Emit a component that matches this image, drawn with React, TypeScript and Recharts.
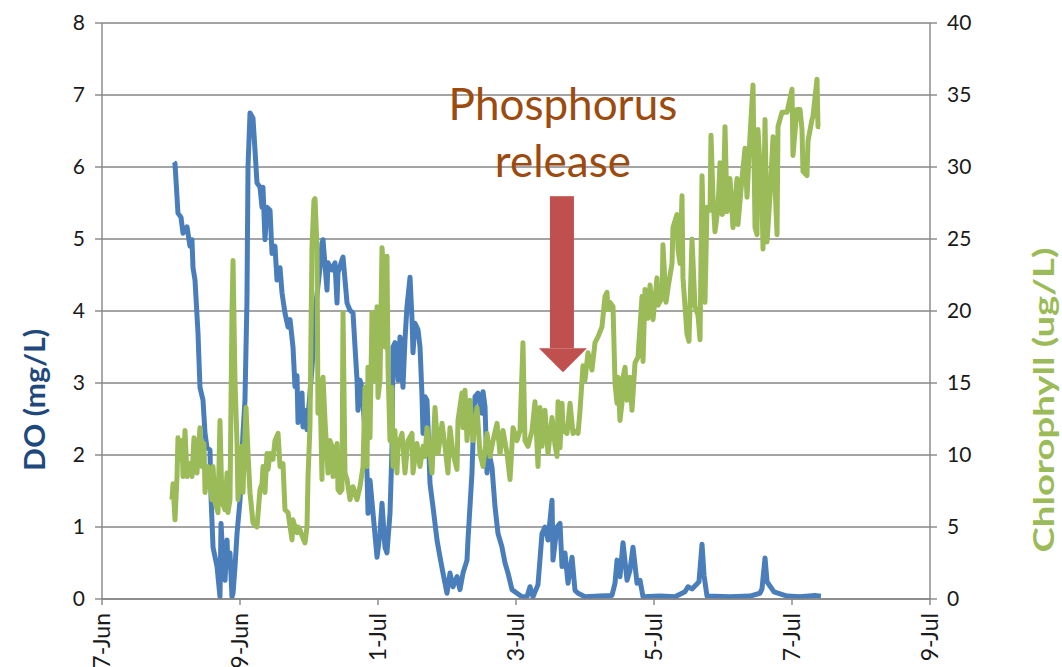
import React from 'react';
import { LineChart, Line, XAxis, YAxis, CartesianGrid, ReferenceDot } from 'recharts';

// days counted from 27-Jun 00:00
const tickDays = [0, 2, 4, 6, 8, 10, 12];
const tickLabels = ['27-Jun', '29-Jun', '1-Jul', '3-Jul', '5-Jul', '7-Jul', '9-Jul'];
const doTicks = [0, 1, 2, 3, 4, 5, 6, 7, 8];
const chlTicks = [0, 5, 10, 15, 20, 25, 30, 35, 40];

// [day, DO mg/L]
const doReadings: [number, number][] = [
  [1.043, 6.07], [1.058, 6.05], [1.101, 5.36], [1.145, 5.3], [1.174, 5.08], [1.232, 5.17], [1.275, 4.9],
  [1.304, 4.99], [1.319, 4.6], [1.348, 4.43], [1.391, 3.7], [1.42, 2.94], [1.464, 2.76], [1.493, 2.3],
  [1.522, 2.1], [1.565, 2.07], [1.58, 1.42], [1.609, 0.72], [1.667, 0.45], [1.71, 0.03], [1.725, 1.05],
  [1.754, 0.54], [1.783, 0.26], [1.812, 0.82], [1.826, 0.45], [1.855, 0.64], [1.884, 0.03], [1.899, 0.08],
  [1.928, 0.45], [1.957, 0.91], [2.0, 1.37], [2.043, 2.3], [2.072, 2.76], [2.101, 4.15], [2.116, 6.0],
  [2.145, 6.75], [2.188, 6.68], [2.217, 6.24], [2.246, 5.78], [2.29, 5.72], [2.319, 5.44], [2.333, 5.72],
  [2.362, 4.99], [2.391, 5.44], [2.435, 5.4], [2.464, 4.8], [2.507, 4.9], [2.536, 4.43], [2.58, 4.6],
  [2.609, 4.25], [2.652, 3.97], [2.696, 3.78], [2.725, 3.88], [2.768, 3.5], [2.797, 2.95], [2.826, 3.1],
  [2.841, 2.45], [2.87, 2.6], [2.899, 2.86], [2.913, 2.39], [2.942, 2.62], [2.971, 2.35], [3.043, 3.2],
  [3.101, 4.1], [3.159, 4.6], [3.188, 4.94], [3.203, 4.99], [3.261, 4.29], [3.275, 4.67], [3.333, 4.57],
  [3.377, 4.67], [3.406, 4.11], [3.42, 4.53], [3.478, 4.71], [3.493, 4.75], [3.522, 4.43], [3.551, 4.11],
  [3.594, 4.01], [3.638, 3.97], [3.667, 3.5], [3.696, 3.04], [3.71, 2.62], [3.739, 3.04], [3.768, 2.94],
  [3.812, 2.3], [3.841, 1.75], [3.855, 1.19], [3.884, 1.65], [3.928, 1.19], [3.986, 0.58], [4.029, 0.91],
  [4.058, 1.33], [4.101, 0.72], [4.13, 0.64], [4.174, 1.19], [4.203, 2.1], [4.217, 3.5], [4.246, 3.56],
  [4.29, 3.04], [4.319, 3.64], [4.362, 2.94], [4.391, 3.6], [4.42, 4.06], [4.464, 4.47], [4.493, 3.88],
  [4.507, 3.42], [4.536, 3.83], [4.58, 3.74], [4.609, 3.5], [4.638, 2.81], [4.652, 2.3], [4.681, 2.81],
  [4.71, 2.76], [4.725, 2.39], [4.754, 1.6], [4.797, 1.28], [4.855, 0.82], [4.899, 0.58], [4.942, 0.36],
  [5.0, 0.08], [5.043, 0.36], [5.087, 0.17], [5.145, 0.31], [5.188, 0.13], [5.232, 0.36], [5.29, 0.54],
  [5.304, 0.82], [5.362, 1.75], [5.377, 2.2], [5.406, 2.81], [5.449, 2.86], [5.507, 2.58], [5.522, 2.88],
  [5.551, 2.67], [5.58, 1.75], [5.594, 2.1], [5.652, 1.83], [5.696, 1.28], [5.739, 0.91], [5.797, 0.72],
  [5.841, 0.5], [5.884, 0.36], [5.942, 0.13], [6.014, 0.08], [6.087, 0.03], [6.159, 0.03], [6.203, 0.17],
  [6.246, 0.03], [6.319, 0.2], [6.377, 0.91], [6.42, 1.0], [6.464, 0.82], [6.522, 1.37], [6.536, 0.54],
  [6.594, 1.0], [6.638, 1.05], [6.667, 0.45], [6.71, 0.64], [6.754, 0.22], [6.812, 0.58], [6.855, 0.12],
  [6.899, 0.08], [7.0, 0.03], [7.217, 0.04], [7.391, 0.05], [7.435, 0.22], [7.464, 0.54], [7.507, 0.31],
  [7.551, 0.78], [7.609, 0.26], [7.652, 0.4], [7.696, 0.72], [7.754, 0.22], [7.797, 0.26], [7.841, 0.03],
  [8.087, 0.04], [8.304, 0.03], [8.449, 0.1], [8.493, 0.17], [8.551, 0.14], [8.652, 0.24], [8.696, 0.76],
  [8.725, 0.33], [8.768, 0.04], [9.101, 0.03], [9.391, 0.04], [9.536, 0.08], [9.565, 0.14], [9.609, 0.57],
  [9.638, 0.24], [9.739, 0.1], [9.928, 0.04], [10.116, 0.03], [10.333, 0.05], [10.42, 0.04],
];

// [day, Chlorophyll ug/L]
const chlReadings: [number, number][] = [
  [1.014, 6.9], [1.029, 8.0], [1.058, 5.5], [1.087, 8.5], [1.101, 11.2], [1.13, 9.7], [1.159, 11.0],
  [1.174, 8.5], [1.203, 11.7], [1.232, 8.5], [1.275, 9.4], [1.304, 8.5], [1.333, 11.2], [1.377, 8.75],
  [1.391, 10.1], [1.42, 11.9], [1.449, 9.2], [1.478, 10.8], [1.493, 7.4], [1.536, 9.2], [1.594, 6.9],
  [1.609, 9.2], [1.638, 6.7], [1.681, 6.0], [1.71, 12.4], [1.739, 6.7], [1.783, 6.2], [1.812, 8.75],
  [1.826, 6.0], [1.855, 6.9], [1.884, 19.9], [1.899, 23.5], [1.928, 15.0], [1.957, 10.8], [1.971, 6.9],
  [2.029, 10.6], [2.043, 7.4], [2.087, 13.3], [2.116, 10.1], [2.145, 7.4], [2.188, 5.3], [2.246, 5.0],
  [2.29, 7.6], [2.319, 8.0], [2.333, 9.2], [2.362, 7.4], [2.391, 10.1], [2.406, 9.0], [2.435, 10.1],
  [2.478, 9.7], [2.507, 11.0], [2.551, 11.5], [2.58, 9.2], [2.623, 9.4], [2.652, 6.2], [2.696, 6.0],
  [2.754, 4.1], [2.768, 5.5], [2.797, 5.0], [2.826, 4.6], [2.841, 5.0], [2.87, 4.8], [2.913, 4.2],
  [2.942, 3.9], [2.971, 5.0], [2.986, 8.5], [3.014, 12.0], [3.043, 24.4], [3.072, 27.7], [3.087, 27.8],
  [3.116, 24.4], [3.13, 12.9], [3.159, 15.2], [3.188, 8.3], [3.203, 15.4], [3.232, 12.4], [3.275, 8.75],
  [3.304, 11.0], [3.333, 10.6], [3.348, 8.5], [3.406, 10.8], [3.42, 7.6], [3.449, 7.4], [3.478, 7.6],
  [3.493, 19.9], [3.522, 8.75], [3.551, 8.3], [3.594, 6.9], [3.638, 7.8], [3.696, 6.9], [3.739, 7.8],
  [3.783, 9.2], [3.812, 14.7], [3.841, 9.2], [3.855, 16.1], [3.884, 11.2], [3.913, 19.9], [3.957, 15.2],
  [3.986, 20.3], [4.0, 14.0], [4.029, 15.2], [4.058, 24.4], [4.072, 23.5], [4.101, 17.5], [4.13, 23.8],
  [4.145, 16.1], [4.174, 11.0], [4.203, 14.7], [4.217, 9.2], [4.246, 11.7], [4.275, 8.75], [4.29, 10.6],
  [4.348, 11.5], [4.391, 8.75], [4.435, 11.0], [4.493, 11.5], [4.507, 8.75], [4.565, 10.8], [4.609, 9.2],
  [4.652, 10.6], [4.681, 9.9], [4.71, 11.9], [4.783, 8.75], [4.826, 13.3], [4.87, 10.1], [4.928, 12.2],
  [4.971, 10.6], [5.014, 8.75], [5.043, 11.9], [5.087, 10.1], [5.145, 9.0], [5.159, 12.4], [5.217, 14.3],
  [5.232, 11.9], [5.261, 14.5], [5.29, 11.0], [5.333, 13.8], [5.377, 11.0], [5.435, 13.3], [5.478, 10.1],
  [5.522, 9.2], [5.58, 11.5], [5.623, 9.9], [5.667, 11.0], [5.725, 12.2], [5.768, 10.1], [5.812, 11.7],
  [5.87, 10.1], [5.913, 8.3], [5.957, 11.9], [6.014, 11.0], [6.058, 11.7], [6.101, 17.8], [6.13, 11.0],
  [6.174, 10.6], [6.232, 11.7], [6.275, 13.7], [6.319, 9.2], [6.348, 13.3], [6.377, 10.6], [6.42, 13.1],
  [6.464, 10.1], [6.522, 12.6], [6.565, 10.7], [6.594, 9.9], [6.609, 13.7], [6.638, 10.5], [6.667, 13.6],
  [6.681, 11.7], [6.739, 11.5], [6.783, 13.6], [6.826, 11.5], [6.884, 11.7], [6.899, 11.5], [6.928, 13.1],
  [6.971, 16.2], [7.0, 15.2], [7.043, 17.1], [7.072, 16.6], [7.101, 15.9], [7.145, 17.8], [7.188, 18.2],
  [7.246, 18.9], [7.29, 21.0], [7.319, 21.3], [7.333, 20.1], [7.362, 20.6], [7.406, 20.3], [7.435, 15.0],
  [7.464, 13.6], [7.478, 15.4], [7.507, 12.4], [7.536, 13.6], [7.551, 15.4], [7.58, 16.1], [7.609, 13.8],
  [7.652, 15.4], [7.681, 13.1], [7.725, 16.4], [7.768, 16.8], [7.797, 18.9], [7.826, 21.0], [7.841, 16.5],
  [7.87, 21.5], [7.913, 19.5], [7.942, 21.8], [7.986, 19.4], [8.043, 22.3], [8.058, 20.4], [8.116, 20.9],
  [8.13, 24.6], [8.174, 20.6], [8.203, 21.6], [8.261, 23.3], [8.275, 25.8], [8.333, 26.7], [8.348, 24.3],
  [8.377, 23.3], [8.406, 28.0], [8.42, 22.3], [8.478, 18.4], [8.507, 17.9], [8.551, 25.0], [8.594, 20.3],
  [8.638, 19.7], [8.667, 18.0], [8.696, 29.4], [8.739, 20.6], [8.768, 27.2], [8.812, 27.0], [8.826, 32.2],
  [8.855, 27.9], [8.884, 25.5], [8.928, 27.2], [8.957, 30.3], [8.986, 26.7], [9.0, 26.8], [9.029, 32.8],
  [9.058, 26.9], [9.101, 29.2], [9.145, 25.8], [9.203, 29.2], [9.217, 26.0], [9.275, 29.2], [9.319, 31.3],
  [9.348, 27.9], [9.391, 32.1], [9.435, 35.7], [9.464, 25.8], [9.493, 25.3], [9.507, 32.6], [9.565, 27.7],
  [9.58, 24.3], [9.609, 33.3], [9.638, 24.8], [9.681, 28.0], [9.725, 32.1], [9.783, 25.3], [9.797, 32.8],
  [9.855, 33.8], [9.928, 33.8], [10.0, 35.4], [10.014, 30.8], [10.072, 34.0], [10.116, 34.0], [10.145, 32.6],
  [10.159, 29.7], [10.217, 29.4], [10.232, 31.8], [10.29, 33.3], [10.304, 33.5], [10.362, 36.1],
  [10.377, 32.8], [10.406, 32.8],
];

// where the arrow tip points (day, DO)
const arrowTip = { day: 6.68, value: 3.15 };

const FONT = 'Lato, "Open Sans", sans-serif';
const AXIS_GREY = '#868686';
const TEXT = '#1a1a1a';

const doData = doReadings.map(([day, v]) => ({ day, v }));
const chlData = chlReadings.map(([day, v]) => ({ day, v }));

const DateTick = (props: any) => {
  const { x, y, payload } = props;
  const idx = tickDays.indexOf(payload.value);
  return (
    <text
      transform={`translate(${x},${y + 6}) rotate(-90)`}
      textAnchor="end"
      dy={8}
      fontSize={23}
      fontFamily={FONT}
      fill={TEXT}
    >
      {tickLabels[idx]}
    </text>
  );
};

const PhosphorusArrow = (props: any) => {
  const { cx, cy } = props;
  if (cx == null || cy == null) return null;
  return (
    <g>
      <text x={cx} y={cy - 252} textAnchor="middle" fontSize={44} fontFamily={FONT} fill="#9C4A0E">
        Phosphorus
      </text>
      <text x={cx} y={cy - 195} textAnchor="middle" fontSize={44} fontFamily={FONT} fill="#9C4A0E">
        release
      </text>
      <rect x={cx - 13} y={cy - 176} width={24} height={152} fill="#C0504D" />
      <polygon
        points={`${cx - 24},${cy - 24} ${cx + 24},${cy - 24} ${cx},${cy}`}
        fill="#C0504D"
      />
    </g>
  );
};

const axisTitle = (text: string, cx: number, span: number, colour: string) => (p: any) => {
  const vb = p.viewBox;
  const cy = vb.y + vb.height / 2 + 89;
  return (
    <text
      x={cx}
      y={cy}
      transform={`rotate(-90, ${cx}, ${cy})`}
      textAnchor="middle"
      dominantBaseline="central"
      fontSize={28}
      fontWeight="bold"
      fontFamily={FONT}
      fill={colour}
      textLength={span}
      lengthAdjust="spacingAndGlyphs"
    >
      {text}
    </text>
  );
};

const App: React.FC = () => {
  return (
    <div style={{ position: 'absolute', left: 0, top: 0, width: 1062, height: 667, background: '#fff' }}>
      <LineChart width={1062} height={667} margin={{ top: 23, right: 0, left: 0, bottom: 0 }}>
        <CartesianGrid yAxisId="do" vertical={false} stroke={AXIS_GREY} strokeWidth={1.4} />
        <XAxis
          dataKey="day"
          type="number"
          domain={[0, 12]}
          ticks={tickDays}
          allowDataOverflow
          height={68}
          tick={<DateTick />}
          tickSize={6}
          stroke={AXIS_GREY}
          strokeWidth={1.4}
        />
        <YAxis
          yAxisId="do"
          orientation="left"
          domain={[0, 8]}
          ticks={doTicks}
          width={102}
          tickSize={7}
          tickMargin={10}
          stroke={AXIS_GREY}
          strokeWidth={1.4}
          tick={{ fontSize: 21, fontFamily: FONT, fill: TEXT }}
          label={axisTitle('DO (mg/L)', 34, 142, '#1F497D')}
        />
        <YAxis
          yAxisId="chl"
          orientation="right"
          domain={[0, 40]}
          ticks={chlTicks}
          width={132}
          tickSize={7}
          tickMargin={10}
          stroke={AXIS_GREY}
          strokeWidth={1.4}
          tick={{ fontSize: 21, fontFamily: FONT, fill: TEXT }}
          label={axisTitle('Chlorophyll (ug/L)', 1043, 305, '#9BBB59')}
        />
        <Line
          yAxisId="do"
          data={doData}
          dataKey="v"
          type="linear"
          dot={false}
          stroke="#4A7EBB"
          strokeWidth={5}
          strokeLinejoin="round"
          isAnimationActive={false}
        />
        <Line
          yAxisId="chl"
          data={chlData}
          dataKey="v"
          type="linear"
          dot={false}
          stroke="#9BBB59"
          strokeWidth={5}
          strokeLinejoin="round"
          isAnimationActive={false}
        />
        <ReferenceDot
          yAxisId="do"
          x={arrowTip.day}
          y={arrowTip.value}
          r={0}
          shape={<PhosphorusArrow />}
        />
      </LineChart>
    </div>
  );
};

export default App;
